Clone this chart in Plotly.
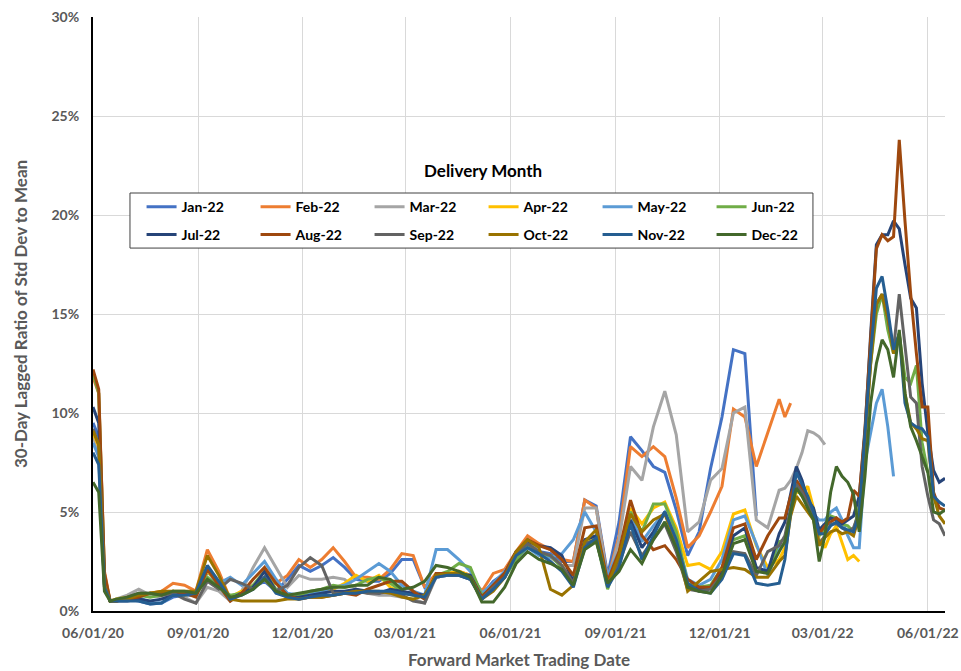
import plotly.graph_objects as go

# Trading dates (sampled) for the forward contracts
dates = [
    "2020-06-01", "2020-06-06", "2020-06-11", "2020-06-16", "2020-06-21", "2020-07-01", "2020-07-11", "2020-07-21", "2020-07-31", "2020-08-10",
    "2020-08-20", "2020-08-30", "2020-09-09", "2020-09-19", "2020-09-29", "2020-10-09", "2020-10-19", "2020-10-29", "2020-11-08", "2020-11-18",
    "2020-11-28", "2020-12-08", "2020-12-18", "2020-12-28", "2021-01-07", "2021-01-17", "2021-01-27", "2021-02-06", "2021-02-16", "2021-02-26",
    "2021-03-08", "2021-03-18", "2021-03-28", "2021-04-07", "2021-04-17", "2021-04-27", "2021-05-07", "2021-05-17", "2021-05-27", "2021-06-06",
    "2021-06-16", "2021-06-26", "2021-07-06", "2021-07-16", "2021-07-26", "2021-08-05", "2021-08-15", "2021-08-25", "2021-09-04", "2021-09-14",
    "2021-09-24", "2021-10-04", "2021-10-14", "2021-10-24", "2021-11-03", "2021-11-13", "2021-11-23", "2021-12-03", "2021-12-13", "2021-12-23",
    "2022-01-02", "2022-01-12", "2022-01-22", "2022-01-27", "2022-02-01", "2022-02-06", "2022-02-11", "2022-02-16", "2022-02-21", "2022-02-26",
    "2022-03-03", "2022-03-08", "2022-03-13", "2022-03-18", "2022-03-23", "2022-03-28", "2022-04-02", "2022-04-07", "2022-04-12", "2022-04-17",
    "2022-04-22", "2022-04-27", "2022-05-02", "2022-05-07", "2022-05-12", "2022-05-17", "2022-05-22", "2022-05-27", "2022-06-01", "2022-06-06",
    "2022-06-11", "2022-06-16",
]

# 30-day lagged ratio of std dev to mean (%), one list per delivery month
jan_22 = [9.5, 8.8, 1.5, 0.5, 0.5, 0.6, 0.5, 0.35, 0.4, 0.7,
          0.8, 0.8, 2.0, 1.3, 0.6, 0.9, 1.2, 1.5, 1.0, 1.6,
          2.3, 2.0, 2.3, 2.7, 2.2, 1.6, 1.5, 1.5, 1.9, 2.6,
          2.6, 1.2, 1.7, 1.8, 1.8, 1.6, 0.8, 1.5, 1.9, 2.8,
          3.6, 3.0, 2.9, 2.5, 2.5, 5.6, 5.3, 1.8, 4.5, 8.8,
          8.1, 7.3, 7.0, 5.1, 2.8, 4.0, 7.2, 9.8, 13.2, 13.0,
          4.8]
feb_22 = [11.8, 11.0, 2.0, 0.5, 0.5, 0.6, 0.8, 0.9, 1.0, 1.4,
          1.3, 1.0, 3.1, 2.0, 0.6, 1.0, 1.3, 1.7, 1.4, 1.8,
          2.6, 2.2, 2.6, 3.2, 2.5, 1.7, 1.7, 1.6, 2.1, 2.9,
          2.8, 1.2, 1.9, 1.9, 2.0, 1.8, 1.0, 1.9, 2.1, 3.0,
          3.8, 3.4, 3.1, 2.6, 2.5, 5.6, 5.2, 1.6, 3.8, 8.3,
          7.8, 8.3, 7.8, 5.7, 3.2, 3.8, 5.0, 6.3, 10.2, 9.8,
          7.3, 9.0, 10.7, 9.8, 10.5]
mar_22 = [8.8, 8.0, 1.4, 0.5, 0.6, 0.8, 1.1, 0.8, 0.7, 0.9,
          0.7, 0.4, 1.2, 1.0, 0.5, 1.0, 2.2, 3.2, 2.2, 1.2,
          1.8, 1.6, 1.6, 1.7, 1.6, 1.1, 0.9, 0.8, 0.8, 0.7,
          0.6, 0.4, 1.7, 1.8, 1.9, 1.7, 0.7, 1.2, 1.8, 2.8,
          3.6, 3.0, 2.7, 2.3, 2.3, 5.2, 5.2, 1.5, 3.6, 7.3,
          6.6, 9.3, 11.1, 8.9, 4.0, 4.5, 6.6, 7.2, 10.0, 10.3,
          4.6, 4.2, 6.1, 6.2, 6.6, 7.2, 8.0, 9.1, 9.0, 8.8,
          8.4]
apr_22 = [9.0, 8.3, 1.2, 0.5, 0.6, 0.7, 0.8, 0.9, 0.9, 1.0,
          0.8, 0.9, 2.0, 1.4, 0.7, 1.0, 1.2, 1.6, 1.0, 0.8,
          0.8, 0.9, 1.0, 1.1, 1.4, 1.8, 1.5, 1.8, 1.2, 0.9,
          0.8, 0.7, 1.9, 1.9, 2.0, 1.8, 0.8, 1.2, 1.8, 2.7,
          3.3, 2.9, 2.8, 2.3, 1.5, 3.5, 3.8, 1.4, 3.0, 5.2,
          4.4, 5.2, 5.5, 4.2, 2.3, 2.4, 2.1, 3.0, 4.9, 5.1,
          3.3, 2.2, 2.6, 3.2, 5.0, 6.0, 6.0, 6.3, 5.2, 3.6,
          3.2, 3.9, 4.3, 3.5, 2.6, 2.8, 2.5]
may_22 = [8.5, 7.8, 1.2, 0.5, 0.5, 0.6, 0.7, 0.4, 0.4, 0.8,
          0.9, 0.9, 2.1, 1.4, 1.7, 1.3, 1.9, 2.5, 1.6, 0.9,
          0.8, 0.9, 1.0, 1.2, 1.3, 1.6, 2.0, 2.4, 2.0, 1.3,
          1.0, 0.8, 3.1, 3.1, 2.6, 2.0, 0.9, 1.4, 2.0, 2.6,
          3.2, 2.8, 2.7, 2.9, 3.6, 5.0, 4.0, 1.8, 3.0, 5.0,
          3.5, 4.3, 5.0, 3.8, 1.6, 1.3, 1.6, 2.6, 4.6, 4.8,
          3.4, 1.8, 3.2, 3.4, 5.0, 6.4, 6.0, 5.2, 4.9, 4.6,
          4.6, 5.0, 5.2, 4.6, 3.8, 3.2, 3.2, 7.5, 9.0, 10.5,
          11.2, 9.3, 6.8]
jun_22 = [12.0, 11.0, 1.8, 0.5, 0.5, 0.6, 0.8, 0.7, 0.8, 1.0,
          0.9, 0.8, 1.7, 1.2, 0.8, 0.9, 1.3, 2.0, 1.1, 0.8,
          0.8, 1.0, 1.1, 1.3, 1.2, 1.3, 1.6, 1.7, 1.4, 1.0,
          0.8, 0.7, 1.8, 2.0, 2.4, 2.2, 0.8, 1.1, 1.7, 2.6,
          3.3, 2.9, 2.8, 2.2, 1.4, 3.4, 3.6, 1.1, 2.8, 5.0,
          4.0, 5.4, 5.4, 4.0, 1.4, 1.2, 1.3, 2.2, 3.6, 3.8,
          2.0, 2.0, 3.5, 3.6, 5.0, 6.2, 5.8, 5.4, 4.9, 3.8,
          4.1, 4.8, 4.7, 4.4, 4.3, 4.0, 5.3, 8.8, 12.5, 15.0,
          16.0, 14.2, 13.0, 14.0, 11.8, 11.5, 12.4, 8.5, 7.0]
jul_22 = [10.3, 9.5, 1.6, 0.5, 0.5, 0.5, 0.6, 0.5, 0.6, 0.8,
          0.9, 0.8, 2.2, 1.4, 0.6, 0.9, 1.2, 2.0, 1.0, 0.7,
          0.7, 0.8, 0.9, 1.0, 1.0, 1.1, 1.0, 0.9, 1.1, 1.0,
          0.9, 0.8, 1.8, 1.9, 1.9, 1.8, 0.7, 1.3, 1.9, 3.0,
          3.5, 3.3, 3.2, 2.8, 1.5, 3.6, 3.8, 1.3, 2.6, 4.6,
          3.2, 4.0, 5.0, 3.4, 1.3, 1.1, 1.2, 2.0, 3.8, 4.2,
          2.2, 2.0, 3.9, 4.5, 6.0, 7.3, 6.6, 5.6, 5.2, 4.1,
          4.4, 4.7, 4.6, 4.4, 4.6, 4.8, 5.8, 9.0, 14.0, 18.5,
          19.0, 19.0, 19.7, 19.3, 17.5, 15.8, 15.3, 11.5, 9.0, 7.1,
          6.5, 6.7]
aug_22 = [12.2, 11.2, 1.9, 0.5, 0.5, 0.6, 0.7, 0.9, 0.9, 1.0,
          0.9, 0.7, 2.1, 1.3, 0.5, 0.9, 1.6, 2.2, 1.4, 0.8,
          0.6, 0.7, 0.7, 0.8, 0.9, 0.8, 1.1, 1.3, 1.5, 1.5,
          1.0, 0.6, 1.9, 1.9, 1.9, 1.7, 0.7, 1.3, 1.9, 3.0,
          3.6, 3.3, 3.1, 2.6, 1.8, 4.2, 4.3, 1.5, 3.0, 5.6,
          3.8, 3.1, 3.3, 2.6, 1.6, 1.2, 1.2, 2.2, 4.2, 4.4,
          2.6, 3.8, 4.7, 4.7, 5.8, 6.6, 6.2, 5.4, 4.9, 3.9,
          4.3, 4.5, 4.7, 4.5, 4.7, 6.1, 5.8, 9.2, 13.5, 18.3,
          19.0, 18.7, 18.9, 23.8, 19.7, 16.0, 13.0, 10.3, 10.3, 6.0,
          5.2, 5.1]
sep_22 = [9.2, 8.4, 1.3, 0.5, 0.5, 0.7, 0.9, 0.9, 0.8, 0.9,
          0.6, 0.4, 1.5, 1.1, 1.6, 1.4, 1.1, 1.7, 1.0, 1.3,
          2.2, 2.7, 2.3, 0.9, 0.9, 1.0, 0.9, 0.9, 1.0, 0.8,
          0.5, 0.4, 1.8, 1.8, 1.8, 1.6, 0.6, 1.2, 1.7, 2.9,
          3.4, 3.0, 2.8, 2.3, 1.4, 3.4, 3.6, 1.3, 2.4, 4.0,
          2.8, 3.6, 4.4, 3.0, 1.1, 1.0, 1.1, 1.8, 3.0, 2.9,
          1.8, 3.0, 3.3, 3.8, 5.2, 6.4, 6.0, 5.4, 4.8, 3.4,
          3.8, 4.4, 4.4, 4.2, 4.0, 4.2, 5.0, 8.5, 12.8, 15.5,
          16.0, 14.8, 13.2, 16.0, 13.5, 10.8, 10.5, 7.3, 5.8, 4.6,
          4.4, 3.8]
oct_22 = [9.1, 8.4, 1.3, 0.5, 0.5, 0.6, 0.8, 0.9, 1.0, 1.0,
          1.0, 1.0, 2.8, 1.8, 0.6, 0.5, 0.5, 0.5, 0.5, 0.6,
          0.6, 0.7, 0.7, 0.8, 0.9, 1.0, 1.0, 1.0, 0.9, 0.7,
          0.6, 0.8, 1.8, 1.9, 1.9, 1.7, 0.6, 1.0, 1.7, 3.0,
          3.6, 3.2, 1.1, 0.8, 1.3, 3.5, 4.1, 1.3, 2.8, 4.9,
          4.0, 4.6, 4.9, 3.4, 1.0, 1.5, 2.0, 2.1, 2.2, 2.1,
          1.7, 1.7, 2.5, 2.8, 4.8, 5.8, 5.4, 5.0, 4.6, 3.3,
          3.7, 4.0, 4.1, 3.9, 4.0, 3.8, 4.8, 8.5, 12.5, 15.5,
          16.0, 14.8, 13.0, 14.0, 11.0, 9.5, 9.2, 8.7, 8.6, 5.8,
          4.8, 4.4]
nov_22 = [8.0, 7.4, 1.2, 0.5, 0.5, 0.5, 0.5, 0.35, 0.4, 0.8,
          0.8, 0.9, 2.3, 1.5, 0.6, 0.8, 1.1, 1.7, 0.9, 0.7,
          0.6, 0.7, 0.8, 0.8, 0.9, 0.9, 1.0, 1.0, 1.0, 0.9,
          0.8, 0.7, 1.7, 1.8, 1.8, 1.6, 0.6, 1.1, 1.7, 2.8,
          3.2, 2.9, 2.5, 2.0, 1.2, 3.2, 3.7, 1.2, 2.2, 4.4,
          2.6, 3.8, 5.0, 3.6, 1.4, 1.0, 0.9, 1.6, 2.9, 2.8,
          1.4, 1.3, 1.4, 2.6, 5.0, 7.0, 6.4, 5.8, 5.0, 3.9,
          3.9, 4.3, 4.5, 4.2, 4.1, 4.0, 4.9, 8.8, 13.0, 16.3,
          16.9, 15.2, 13.2, 14.0, 10.5, 9.5, 9.3, 9.2, 8.8, 5.8,
          5.5, 5.3]
dec_22 = [6.5, 6.0, 1.0, 0.5, 0.6, 0.7, 0.9, 0.9, 0.8, 1.0,
          1.0, 0.9, 1.6, 1.2, 0.7, 0.8, 1.1, 1.6, 1.0, 0.8,
          0.9, 1.0, 1.1, 1.2, 1.2, 1.3, 1.3, 1.7, 1.6, 1.1,
          1.2, 1.5, 2.3, 2.2, 2.0, 1.7, 0.45, 0.45, 1.2, 2.4,
          3.0, 2.6, 2.4, 2.1, 1.3, 3.1, 3.5, 1.4, 2.0, 3.1,
          2.4, 3.6, 4.5, 3.2, 1.2, 1.0, 0.9, 1.8, 3.4, 3.6,
          2.0, 1.9, 3.0, 3.5, 5.0, 6.2, 5.8, 5.2, 4.6, 2.5,
          3.8, 6.0, 7.3, 6.8, 6.5, 5.9, 4.0, 6.8, 10.5, 12.5,
          13.7, 13.2, 11.8, 14.2, 11.0, 9.3, 8.6, 7.8, 7.0, 5.0,
          4.9, 5.1]

month_names = ["Jan-22", "Feb-22", "Mar-22", "Apr-22", "May-22", "Jun-22",
               "Jul-22", "Aug-22", "Sep-22", "Oct-22", "Nov-22", "Dec-22"]
month_values = [jan_22, feb_22, mar_22, apr_22, may_22, jun_22,
                jul_22, aug_22, sep_22, oct_22, nov_22, dec_22]

tick_dates = ["2020-06-01", "2020-09-01", "2020-12-01", "2021-03-01", "2021-06-01",
              "2021-09-01", "2021-12-01", "2022-03-01", "2022-06-01"]
tick_labels = ["06/01/20", "09/01/20", "12/01/20", "03/01/21", "06/01/21",
               "09/01/21", "12/01/21", "03/01/22", "06/01/22"]
y_ticks = [0, 5, 10, 15, 20, 25, 30]
y_tick_labels = ["0%", "5%", "10%", "15%", "20%", "25%", "30%"]

# Office palette, one colour per delivery month
line_colors = ["#4472C4", "#ED7D31", "#A5A5A5", "#FFC000", "#5B9BD5", "#70AD47",
               "#264478", "#9E480E", "#636363", "#997300", "#255E91", "#43682B"]

FONT = "Lato, 'Open Sans', Arial, sans-serif"
AXIS_GRAY = "#595959"

fig = go.Figure()
for k, (name, vals) in enumerate(zip(month_names, month_values)):
    y = list(vals) + [None] * (len(dates) - len(vals))
    fig.add_trace(go.Scatter(
        x=dates, y=y, name=name, mode="lines",
        line=dict(color=line_colors[k], width=3),
        legend="legend" if k < 6 else "legend2",
        connectgaps=False,
    ))

legend_common = dict(
    orientation="h", xanchor="left", yanchor="middle", x=0.057,
    entrywidth=69, entrywidthmode="pixels",
    font=dict(family=FONT, size=14, color="#000000", weight="bold"),
    bgcolor="rgba(0,0,0,0)", borderwidth=0, tracegroupgap=0,
)

fig.update_layout(
    width=961, height=671,
    margin=dict(l=93, r=16, t=17, b=60),
    paper_bgcolor="white", plot_bgcolor="white",
    showlegend=True,
    legend=dict(legend_common, y=0.680),
    legend2=dict(legend_common, y=0.633),
    xaxis=dict(
        type="date", range=["2020-06-01", "2022-06-16"],
        tickmode="array", tickvals=tick_dates, ticktext=tick_labels,
        showgrid=True, gridcolor="#D9D9D9", gridwidth=1,
        showline=True, linecolor="#000000", linewidth=2, zeroline=False,
        ticks="", ticklabelstandoff=8,
        tickfont=dict(family=FONT, size=14, color=AXIS_GRAY, weight="bold"),
        title=dict(text="<b>Forward Market Trading Date</b>", standoff=14,
                   font=dict(family=FONT, size=17, color=AXIS_GRAY)),
        automargin=False,
    ),
    yaxis=dict(
        range=[0, 30], tickmode="array", tickvals=y_ticks, ticktext=y_tick_labels,
        showgrid=True, gridcolor="#D9D9D9", gridwidth=1,
        showline=True, linecolor="#000000", linewidth=2, zeroline=False,
        ticks="", ticklabelstandoff=9,
        tickfont=dict(family=FONT, size=14, color=AXIS_GRAY, weight="bold"),
        title=dict(text="<b>30-Day Lagged Ratio of Std Dev to Mean</b>", standoff=20,
                   font=dict(family=FONT, size=17, color=AXIS_GRAY)),
        automargin=False,
    ),
    shapes=[dict(
        type="rect", xref="paper", yref="paper",
        x0=0.0434, x1=0.845, y0=0.611, y1=0.7037,
        line=dict(color="#404040", width=1), fillcolor="white", layer="above",
    )],
    annotations=[dict(
        text="<b>Delivery Month</b>", xref="paper", yref="paper",
        x=0.4577, y=0.7424, xanchor="center", yanchor="middle", showarrow=False,
        font=dict(family=FONT, size=17, color="#000000"),
    )],
)

fig.write_html("out.html")
